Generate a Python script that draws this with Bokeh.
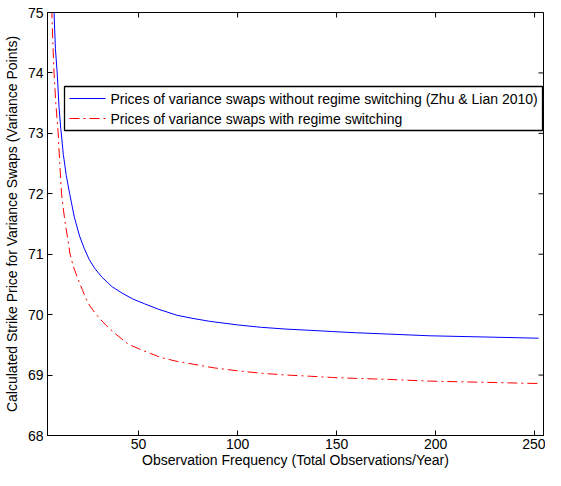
import math
from bokeh.plotting import figure
from bokeh.models import Range1d, FixedTicker, BoxAnnotation, Label
from bokeh.embed import file_html
from bokeh.resources import INLINE

# Observation frequency (total observations / year) and strike prices (variance points)
freq_no_rs = [6.5, 7.3, 8.0, 8.9, 9.8, 10.7, 12, 13.5, 15.2, 17.5, 20.2, 22.5, 25.1,
              28, 31.5, 36.7, 42, 47, 53, 60, 69.4, 77, 85.8, 100, 112, 125, 137,
              148, 160, 175, 197, 225, 252]
price_no_rs = [75.4, 75.0, 74.4, 74.0, 73.45, 73.08, 72.65, 72.3, 72.0, 71.62, 71.3,
               71.1, 70.91, 70.76, 70.62, 70.46, 70.35, 70.26, 70.18, 70.09, 69.99,
               69.94, 69.89, 69.83, 69.79, 69.76, 69.74, 69.72, 69.70, 69.68, 69.65,
               69.63, 69.61]

freq_rs = [5.8, 6.2, 6.7, 7.3, 8.2, 9.4, 10.2, 11.1, 12, 13, 14, 15.3, 17, 19.4,
           21.5, 23.5, 25.5, 28, 30.5, 33.4, 38, 44.8, 52, 61.3, 69, 77.6, 88, 100,
           112, 125, 137, 148, 160, 175, 197, 225, 252]
price_rs = [75.4, 75.0, 74.5, 74.0, 73.5, 73.0, 72.5, 72.0, 71.75, 71.5, 71.3, 71.02,
            70.8, 70.59, 70.42, 70.26, 70.14, 70.03, 69.93, 69.83, 69.69, 69.51, 69.41,
            69.29, 69.23, 69.18, 69.12, 69.07, 69.03, 69.0, 68.98, 68.96, 68.945,
            68.93, 68.90, 68.88, 68.86]

x_ticks = [50, 100, 150, 200, 250]
y_ticks = [68, 69, 70, 71, 72, 73, 74, 75]
x_limits = (4, 254.5)
y_limits = (68, 75)

label_no_rs = "Prices of variance swaps without regime switching (Zhu & Lian 2010)"
label_rs = "Prices of variance swaps with regime switching"
x_title = "Observation Frequency (Total Observations/Year)"
y_title = "Calculated Strike Price for Variance Swaps (Variance Points)"

FONT = "Liberation Sans"
FS = "14px"
BLUE = "#0000FF"
RED = "#FF0000"
DASH = "10 4 2 4"

FRAME_W, FRAME_H = 496, 423

p = figure(frame_width=FRAME_W, frame_height=FRAME_H, output_backend="svg",
           toolbar_location=None,
           x_range=Range1d(*x_limits), y_range=Range1d(*y_limits),
           min_border_left=47, min_border_right=2, min_border_top=12,
           min_border_bottom=35)
p.background_fill_color = "white"
p.border_fill_color = "white"
p.grid.visible = False
p.outline_line_color = "black"
p.outline_line_width = 1

for ax in (p.xaxis[0], p.yaxis[0]):
    ax.major_tick_in = 5
    ax.major_tick_out = 0
    ax.minor_tick_line_color = None
    ax.axis_line_color = "black"
    ax.major_tick_line_color = "black"
    ax.major_label_text_font = FONT
    ax.major_label_text_font_size = FS
    ax.major_label_text_color = "black"
    ax.axis_label_text_font = FONT
    ax.axis_label_text_font_size = FS
    ax.axis_label_text_font_style = "normal"
    ax.axis_label_text_color = "black"

p.xaxis[0].ticker = FixedTicker(ticks=x_ticks)
p.yaxis[0].ticker = FixedTicker(ticks=y_ticks)
p.xaxis[0].axis_label = x_title
p.yaxis[0].axis_label = y_title
p.xaxis[0].major_label_standoff = 3
p.xaxis[0].axis_label_standoff = 0
p.yaxis[0].major_label_standoff = 4
p.yaxis[0].axis_label_standoff = 5

# mirrored inward ticks on the top and right edges (MATLAB box style)
p.scatter(x_ticks, [y_limits[1]] * len(x_ticks), marker="dash", size=10,
          angle=math.pi / 2, line_color="black", line_width=1)
p.scatter([x_limits[1]] * len(y_ticks), y_ticks, marker="dash", size=10,
          line_color="black", line_width=1)

p.line(freq_no_rs, price_no_rs, line_color=BLUE, line_width=1)
p.line(freq_rs, price_rs, line_color=RED, line_width=1, line_dash=DASH)

# ---- legend, built by hand (screen offsets measured from the frame's bottom-left)
LEG_LEFT, LEG_RIGHT, LEG_BOTTOM, LEG_TOP = 17, 495, 305, 349
ROW_Y = [337, 317]
SAMPLE_X = (22, 58)
TEXT_X = 63


def sx_to_data(px):
    return x_limits[0] + px * (x_limits[1] - x_limits[0]) / FRAME_W


def sy_to_data(py):
    return y_limits[0] + py * (y_limits[1] - y_limits[0]) / FRAME_H


p.add_layout(BoxAnnotation(left=LEG_LEFT, right=LEG_RIGHT, bottom=LEG_BOTTOM, top=LEG_TOP,
                           left_units="screen", right_units="screen",
                           bottom_units="screen", top_units="screen",
                           fill_color="white", fill_alpha=1,
                           line_color="black", line_alpha=1, line_width=1.3,
                           level="underlay"))

for row_y, colour, dash, text in ((ROW_Y[0], BLUE, "solid", label_no_rs),
                                  (ROW_Y[1], RED, DASH, label_rs)):
    yd = sy_to_data(row_y)
    p.line([sx_to_data(SAMPLE_X[0]), sx_to_data(SAMPLE_X[1])], [yd, yd],
           line_color=colour, line_width=1, line_dash=dash)
    p.add_layout(Label(x=TEXT_X, y=row_y, x_units="screen", y_units="screen",
                       text=text, text_font=FONT, text_font_size=FS,
                       text_color="black", text_baseline="middle", text_align="left"))

open("out.html", "w").write(file_html(p, INLINE))
